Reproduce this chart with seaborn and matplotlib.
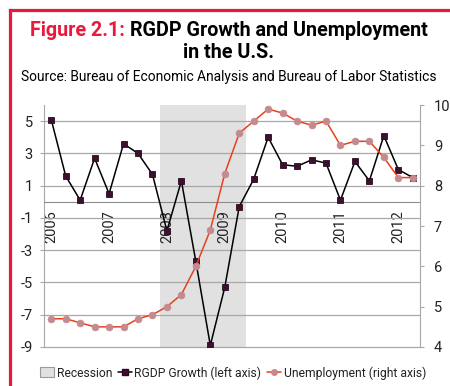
import numpy as np
import pandas as pd
import matplotlib
matplotlib.use("Agg")
import matplotlib.pyplot as plt
import seaborn as sns
from matplotlib.patches import Patch
from matplotlib.lines import Line2D

# ================= DATA =================

years = ["2006", "2007", "2008", "2009", "2010", "2011", "2012"]
quarters = ["Q1", "Q2", "Q3", "Q4"]

# quarterly RGDP growth, annualized % (left axis), 2006Q1 - 2012Q2
gdp_growth = [5.1, 1.6, 0.1, 2.7, 0.5, 3.6, 3.0, 1.7, -1.8, 1.3, -3.7, -8.9, -5.3,
              -0.3, 1.4, 4.0, 2.3, 2.2, 2.6, 2.4, 0.1, 2.5, 1.3, 4.1, 2.0, 1.5]

# unemployment rate % (right axis)
unemployment = [4.7, 4.7, 4.6, 4.5, 4.5, 4.5, 4.7, 4.8, 5.0, 5.3, 6.0, 6.9, 8.3,
                9.3, 9.6, 9.9, 9.8, 9.6, 9.5, 9.6, 9.0, 9.1, 9.1, 8.7, 8.2, 8.2]

# NBER recession flag per quarter
recession = [0, 0, 0, 0, 0, 0, 0, 0, 1, 1, 1, 1, 1,
             1, 0, 0, 0, 0, 0, 0, 0, 0, 0, 0, 0, 0]

labels = [y + q for y in years for q in quarters][:len(gdp_growth)]

df = pd.DataFrame({
    "quarter": labels,
    "x": np.arange(len(labels)),
    "gdp": gdp_growth,
    "unemp": unemployment,
    "recession": recession,
})

# ================= STYLE =================

sns.set_style("white")
plt.rcParams["font.family"] = ["Roboto", "DejaVu Sans"]
plt.rcParams["axes.unicode_minus"] = False

RED = "#e8193c"
GRID = "#a8a8a8"
TXT = "#222222"

fig = plt.figure(figsize=(4.5, 3.86), dpi=100)
W, H = 450, 386
renderer = fig.canvas.get_renderer()

def fit(t, target):
    # scale a text so its width matches the reference
    w = t.get_window_extent(renderer).width
    t.set_fontsize(t.get_fontsize() * target / w)

ax = fig.add_axes([44 / W, 1 - 347 / H, (420 - 44) / W, (347 - 105) / H])
ax2 = ax.twinx()

# ================= RECESSION SHADING =================

lo, hi = -9, 6
ax.bar(df["x"], df["recession"] * (hi - lo), bottom=lo, width=1.0,
       color="#e1e1e1", linewidth=0, zorder=0.5)

# ================= LINES =================

sns.lineplot(data=df, x="x", y="gdp", ax=ax, color="black", linewidth=1.1,
             marker="s", markersize=4.8, markerfacecolor="#3e1030",
             markeredgecolor="#2a0a20", markeredgewidth=0.6, legend=False, zorder=3)

sns.lineplot(data=df, x="x", y="unemp", ax=ax2, color="#e8401c", linewidth=1.1,
             marker="o", markersize=4.8, markerfacecolor="#c48a90",
             markeredgecolor="#c48a90", markeredgewidth=0.6, legend=False, zorder=3)

# ================= LEFT AXIS =================

ax.set_xlim(-0.5, len(labels) - 0.5)
ax.set_ylim(lo, hi)
ax.set_yticks(range(-9, 6, 2))
ax.grid(axis="y", color=GRID, linewidth=0.9)
ax.grid(axis="x", visible=False)
ax.set_axisbelow("line")
for gl in ax.get_ygridlines():
    gl.set_clip_on(False)

ax.spines["top"].set_visible(False)
ax.spines["right"].set_visible(False)
ax.spines["left"].set_color(GRID)
ax.spines["bottom"].set_position(("data", 0))
ax.spines["bottom"].set_color("#8c8c8c")

ax.set_xticks(df["x"][::4])
ax.set_xticklabels(years, rotation=90)
ax.set_xticks(np.arange(-0.5, len(labels), 1), minor=True)
ax.tick_params(axis="x", which="major", length=0, pad=6, labelsize=10.5, labelcolor=TXT)
ax.tick_params(axis="x", which="minor", length=4, color="#8c8c8c", direction="out")
ax.tick_params(axis="y", length=3, color=GRID, pad=5, labelsize=10.5, labelcolor=TXT)
ax.set_xlabel("")
ax.set_ylabel("")

# ================= RIGHT AXIS =================

ax2.set_ylim(4, 10)
ax2.set_yticks(range(4, 11))
for s in ["top", "left", "bottom"]:
    ax2.spines[s].set_visible(False)
ax2.spines["right"].set_color(GRID)
ax2.tick_params(axis="y", length=3, color=GRID, pad=7, labelsize=10.5, labelcolor=TXT)
ax2.set_ylabel("")
ax2.grid(False)

# ================= LEGEND =================

handles = [
    Patch(facecolor="#e1e1e1", edgecolor="#9a9a9a", linewidth=0.8),
    Line2D([], [], color="black", linewidth=1.1, marker="s", markersize=4,
           markerfacecolor="#3e1030", markeredgecolor="#2a0a20"),
    Line2D([], [], color="#e8401c", linewidth=1.1, marker="o", markersize=4,
           markerfacecolor="#c48a90", markeredgecolor="#c48a90"),
]
leg = fig.legend(handles, ["Recession", "RGDP Growth (left axis)", "Unemployment (right axis)"],
                 loc="center", bbox_to_anchor=(233 / W, 1 - 373 / H), ncol=3, frameon=False,
                 fontsize=10, handlelength=1.0, handleheight=0.8, handletextpad=0.2,
                 columnspacing=0.4, borderpad=0, labelcolor=TXT)
lw = leg.get_window_extent(renderer).width
for t in leg.get_texts():
    t.set_fontsize(10 * (384 - 50) / (lw - 50))

# ================= TITLE =================

t1 = fig.text(0, 1 - 31 / H, "Figure 2.1:", color=RED, fontsize=12.5,
              fontweight="bold", va="center")
t2 = fig.text(0, 1 - 31 / H, "RGDP Growth and Unemployment", color="black",
              fontsize=12.5, fontweight="bold", va="center")
gap = 5
w1 = t1.get_window_extent(renderer).width
w2 = t2.get_window_extent(renderer).width
scale = (399 - gap) / (w1 + w2)
t1.set_fontsize(12.5 * scale)
t2.set_fontsize(12.5 * scale)
w1 = t1.get_window_extent(renderer).width
w2 = t2.get_window_extent(renderer).width
x0 = 228.5 - (w1 + gap + w2) / 2
t1.set_x(x0 / W)
t2.set_x((x0 + w1 + gap) / W)

fig.text(228.5 / W, 1 - 53 / H, "in the U.S.", color="black", fontsize=12.5 * scale,
         fontweight="bold", ha="center", va="center")
src = fig.text(228.5 / W, 1 - 77 / H,
               "Source: Bureau of Economic Analysis and Bureau of Labor Statistics",
               color="black", fontsize=9.5, ha="center", va="center")
fit(src, 419)

# ================= RED FRAME =================

fig.add_artist(Line2D([10 / W, 10 / W], [0, 1 - 10 / H], transform=fig.transFigure,
                      color=RED, linewidth=2.3, solid_capstyle="projecting"))
fig.add_artist(Line2D([10 / W, 1.0], [1 - 10 / H, 1 - 10 / H], transform=fig.transFigure,
                      color=RED, linewidth=2.3, solid_capstyle="projecting"))

plt.savefig("out.png", dpi=100)
